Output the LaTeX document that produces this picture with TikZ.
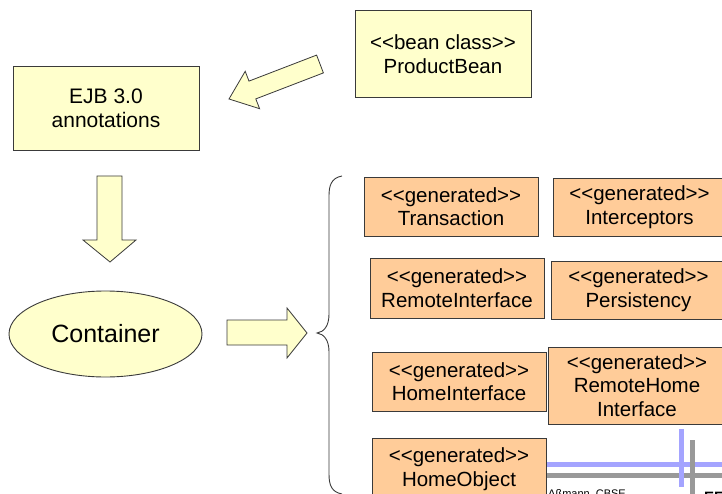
\documentclass[tikz,border=0pt]{standalone}
\usepackage{fontspec}
\setmainfont{Liberation Sans}[Ligatures=TeXOff]
\usetikzlibrary{shapes.geometric}

\definecolor{beanfill}{HTML}{FFFFCC}
\definecolor{genfill}{HTML}{FFCC99}
\definecolor{edge}{HTML}{3A3A3A}
\definecolor{barblue}{HTML}{A4A4FF}
\definecolor{bargray}{HTML}{999999}

\tikzset{
  every node/.style={text=black},
  plainbox/.style={draw=edge, line width=0.9pt, fill=beanfill, inner sep=0pt,
    align=center, font=\fontsize{20.5}{23.5}\selectfont},
  genbox/.style={plainbox, fill=genfill},
  blockarrow/.style={draw=edge, line width=0.8pt, fill=beanfill, line join=miter},
  bar/.style={line width=5pt},
}

\begin{document}
\begin{tikzpicture}[x=1pt, y=-1pt]
  \useasboundingbox (0,0) rectangle (722,494);
  \clip (0,0) rectangle (722,494);

  % footer rules of the slide
  \draw[bar, barblue] (546,464) -- (722,464);
  \draw[bar, bargray] (546,475) -- (722,475);
  \draw[bar, barblue] (681,429) -- (681,487);
  \draw[bar, bargray] (692.5,440) -- (692.5,500);
  \node[anchor=base west, inner sep=0pt, font=\fontsize{11}{13}\selectfont] (author) at (548,497) {Aßmann, CBSE};
  \node[anchor=base west, inner sep=0pt, font=\fontsize{15}{17}\selectfont\bfseries] (tag) at (704,502) {EE};

  % input classes
  \node[plainbox, minimum width=176, minimum height=87] (bean) at (443,54)
    {<<bean class>>\\ProductBean};
  \node[plainbox, minimum width=186, minimum height=84, font=\fontsize{21}{24}\selectfont] (ejb) at (106,108)
    {EJB 3.0\\annotations};

  % container
  \node[draw=edge, line width=0.9pt, fill=beanfill, ellipse, inner sep=0pt,
        minimum width=193, minimum height=86, font=\fontsize{25}{28}\selectfont] (cont) at (105.5,334) {Container};

  % block arrows
  \draw[blockarrow] (316.6,55.1) -- (249.0,81.1) -- (245.2,71.3) -- (229,99)
    -- (259.6,108.7) -- (255.8,98.9) -- (323.4,72.9) -- cycle;
  \draw[blockarrow] (97,176) -- (122,176) -- (122,240) -- (136,240) -- (110,262)
    -- (83,240) -- (97,240) -- cycle;
  \draw[blockarrow] (227,320) -- (287,320) -- (287,308) -- (307,333) -- (287,358)
    -- (287,345) -- (227,345) -- cycle;

  % curly brace
  \draw[edge, line width=0.9pt] (342,176) .. controls (331,178) and (329,186) .. (329,196)
    -- (329,314) .. controls (329,326) and (324,332) .. (317,333)
    .. controls (324,334) and (329,340) .. (329,352)
    -- (329,474) .. controls (329,486) and (332,492) .. (342,494);

  % generated artefacts
  \node[genbox, minimum width=174, minimum height=59] (trans) at (451,206.5)
    {<<generated>>\\Transaction};
  \node[genbox, minimum width=173, minimum height=58] (inter) at (639.5,207)
    {<<generated>>\\Interceptors};
  \node[genbox, minimum width=174, minimum height=60] (remint) at (457,288)
    {<<generated>>\\RemoteInterface};
  \node[genbox, minimum width=175, minimum height=58] (pers) at (638.5,290)
    {<<generated>>\\Persistency};
  \node[genbox, minimum width=174, minimum height=59] (homeint) at (459,381.5)
    {<<generated>>\\HomeInterface};
  \node[genbox, minimum width=178, minimum height=77] (remhome) at (637,385.5)
    {<<generated>>\\RemoteHome\\Interface};
  \node[genbox, minimum width=174, minimum height=62] (homeobj) at (459,469)
    {<<generated>>\\HomeObject};
\end{tikzpicture}
\end{document}
